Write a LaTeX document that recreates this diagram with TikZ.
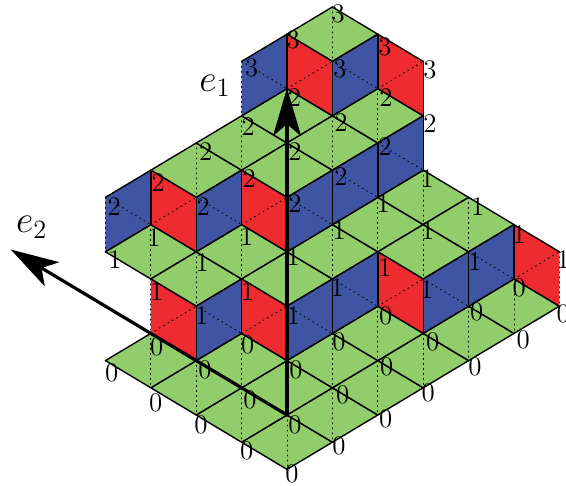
\documentclass[tikz,border=0pt]{standalone}
\usetikzlibrary{arrows.meta}
\definecolor{topgreen}{RGB}{146,205,107}
\definecolor{sidered}{RGB}{238,43,46}
\definecolor{sideblue}{RGB}{63,85,164}
\begin{document}
\begin{tikzpicture}[x=22.7pt,y=13.6pt,line join=round,line cap=round,
		edge/.style={black,line width=0.7pt},
		hint/.style={black,line width=0.5pt,dotted},
		axis/.style={black,line width=1.6pt,-{Stealth[length=24pt,width=14pt,inset=6pt]}},
		lab/.style={inner sep=0pt,font=\large,scale=1.12,transform shape},
		axislab/.style={inner sep=0pt,font=\LARGE,scale=1.1,transform shape}]
	\useasboundingbox (-6.322,-2.574) rectangle (6.145,15.257);
	% top faces, given by their centre
	\foreach \c/\k in {0/-1,-1/0,-2/1,-3/2,1/0,0/1,-1/2,2/1,1/2,3/2,2/3,4/3,5/4,
		-3/6,-2/5,-1/6,0/5,1/6,2/7,3/6,3/8,4/7,
		-2/9,-1/10,0/11,0/9,1/10,2/11,
		1/14}{
		\fill[topgreen](\c-1,\k)--++(1,1)--++(1,-1)--++(-1,-1)--cycle;
		\draw[hint](\c,\k+1)--++(0,-2);
		\draw[edge](\c-1,\k)--++(1,1)--++(1,-1)--++(-1,-1)--cycle;
	}
	% red faces, given by their upper left corner
	\foreach \c/\k in {-3/5,-1/5,2/6,5/7,-3/9,-1/9,0/14,2/14}{
		\fill[sidered](\c,\k)--++(1,-1)--++(0,-2)--++(-1,1)--cycle;
		\draw[hint](\c,\k-2)--++(1,1);
		\draw[edge](\c,\k)--++(1,-1) (\c,\k-2)--++(1,-1);
	}
	% blue faces
	\foreach \c/\k in {-2/4,0/4,1/5,3/5,4/6,-4/8,-2/8,0/8,1/9,2/10,-1/13,1/13}{
		\fill[sideblue](\c,\k)--++(1,1)--++(0,-2)--++(-1,-1)--cycle;
		\draw[hint](\c,\k)--++(1,-1);
		\draw[edge](\c,\k)--++(1,1) (\c,\k-2)--++(1,1);
	}
	% vertical edges
	\foreach \c/\k in {-2/4,-1/5,0/4,1/5,2/6,3/5,4/6,5/7,
		-3/9,-2/8,-1/9,0/8,1/9,2/10,3/11,
		0/14,1/13,2/14,3/13}
	\draw[edge](\c,\k)--++(0,-2);
	\foreach \c/\k in {-3/5,6/6,-4/8,-1/13}
	\draw[hint](\c,\k)--++(0,-2);
	% heights, at the place they are printed in the reference
	\foreach \x/\y/\t [count=\i] in {111.7/372.7/0,155.7/403.3/0,201/425/0,246.7/450.7/0,292/474/0,
		339/446/0,385.7/419/0,428.3/393.3/0,475/366.7/0,523.3/340/0,563.3/314/0,
		156.7/347.3/0,205/370/0,250/400/0,295/425/0,247.7/345/0,296/369.5/0,
		339/341.7/0,342.7/395/0,386.7/367.3/0,385.7/316/0,432.7/341.7/0,476.7/311.7/0,519.3/288.3/0,
		115/260/1,202.3/262.7/1,156.7/291.7/1,247.7/291.7/1,201.7/316/1,293.5/315.5/1,293.3/256.7/1,
		154/238/1,246.7/237/1,337.3/288.3/1,385/268.3/1,426.7/290/1,475/261.7/1,563.3/260/1,
		339.3/230.7/1,383.3/204/1,427.3/179.3/1,427.7/230.7/1,477.7/206.7/1,519.3/235/1,
		114.3/206.7/2,158.3/182.7/2,203.3/206.7/2,249.3/179.3/2,295/203.5/2,205.7/151.7/2,
		248.3/126.7/2,295/151.7/2,294.5/98.3/2,341/123.3/2,341/176.7/2,386/98.3/2,385/147.3/2,430/124/2,
		251.7/68.3/3,293.3/39.6/3,338.3/14/3,340/69.3/3,385/46.7/3,430/70/3}
	\node[lab](h\i) at ({(\x-287)/45.4},{(415-\y)/27.2}) {$\t$};
	% the two axes
	\coordinate (O) at (0,0);
	\coordinate (E1) at (0,12.02);
	\coordinate (E2) at (-6.086,6.084);
	\draw[axis](O)--(E1);
	\draw[axis](O)--(E2);
	\node[axislab](e1) at (-1.586,12.1) {$e_1$};
	\node[axislab](e2) at (-5.62,6.91) {$e_2$};
\end{tikzpicture}
\end{document}
